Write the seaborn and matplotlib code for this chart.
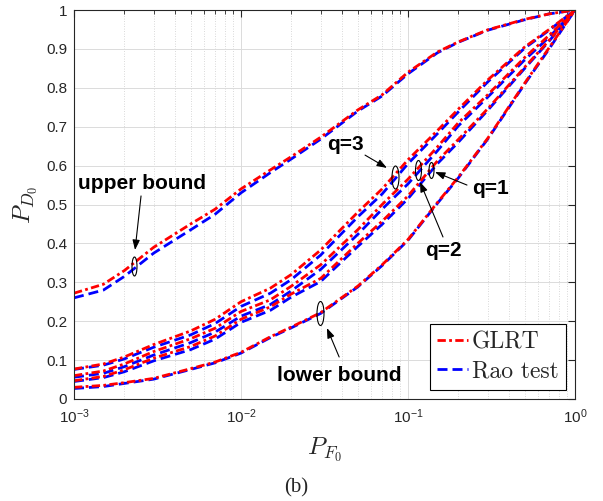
import numpy as np
import pandas as pd
import seaborn as sns
import matplotlib
matplotlib.use("Agg")
import matplotlib.pyplot as plt
from matplotlib.path import Path
from matplotlib.transforms import Affine2D
from matplotlib.ticker import FixedLocator, FixedFormatter, LogLocator, NullFormatter

# ---------------- data ----------------
pf = [0.001, 0.0015, 0.002, 0.003, 0.005, 0.007, 0.01, 0.015, 0.02, 0.03,
      0.05, 0.07, 0.1, 0.15, 0.2, 0.3, 0.5, 0.7, 1.0]

glrt_upper = [0.272, 0.295, 0.33, 0.39, 0.45, 0.488, 0.54, 0.589, 0.623, 0.673,
              0.743, 0.782, 0.84, 0.892, 0.918, 0.949, 0.976, 0.99, 1.0]
glrt_q3 = [0.077, 0.09, 0.108, 0.14, 0.175, 0.205, 0.25, 0.285, 0.32, 0.383,
           0.48, 0.54, 0.615, 0.69, 0.745, 0.82, 0.905, 0.95, 1.0]
glrt_q2 = [0.06, 0.072, 0.09, 0.122, 0.155, 0.182, 0.225, 0.255, 0.29, 0.345,
           0.435, 0.5, 0.565, 0.648, 0.71, 0.782, 0.878, 0.935, 1.0]
glrt_q1 = [0.047, 0.058, 0.075, 0.105, 0.135, 0.162, 0.205, 0.237, 0.27, 0.31,
           0.4, 0.457, 0.522, 0.612, 0.667, 0.746, 0.853, 0.922, 1.0]
glrt_lower = [0.03, 0.035, 0.042, 0.053, 0.078, 0.095, 0.12, 0.16, 0.185, 0.222,
              0.29, 0.345, 0.41, 0.505, 0.57, 0.67, 0.812, 0.903, 1.0]

rao_upper = [0.26, 0.28, 0.315, 0.375, 0.435, 0.475, 0.53, 0.582, 0.617, 0.668,
             0.74, 0.779, 0.836, 0.89, 0.917, 0.948, 0.975, 0.99, 1.0]
rao_q3 = [0.076, 0.087, 0.103, 0.133, 0.165, 0.194, 0.238, 0.272, 0.307, 0.37,
          0.468, 0.527, 0.605, 0.682, 0.738, 0.815, 0.902, 0.948, 1.0]
rao_q2 = [0.056, 0.066, 0.083, 0.113, 0.145, 0.172, 0.213, 0.243, 0.278, 0.333,
          0.423, 0.488, 0.553, 0.638, 0.702, 0.776, 0.872, 0.93, 1.0]
rao_q1 = [0.045, 0.055, 0.07, 0.098, 0.127, 0.154, 0.197, 0.228, 0.262, 0.302,
          0.392, 0.449, 0.515, 0.605, 0.66, 0.742, 0.85, 0.92, 1.0]
rao_lower = [0.027, 0.032, 0.04, 0.051, 0.076, 0.093, 0.118, 0.158, 0.183, 0.22,
             0.288, 0.343, 0.408, 0.503, 0.568, 0.668, 0.81, 0.9, 1.0]

curve_names = ["upper", "q3", "q2", "q1", "lower"]
tests = ["GLRT", "Rao test"]
y_ticks = [0, 0.1, 0.2, 0.3, 0.4, 0.5, 0.6, 0.7, 0.8, 0.9, 1]
y_tick_labels = ["0", "0.1", "0.2", "0.3", "0.4", "0.5", "0.6", "0.7", "0.8", "0.9", "1"]
x_ticks = [1e-3, 1e-2, 1e-1, 1]
x_tick_labels = [r"$\mathdefault{10^{-3}}$", r"$\mathdefault{10^{-2}}$",
                 r"$\mathdefault{10^{-1}}$", r"$\mathdefault{10^{0}}$"]

series = {
    ("GLRT", "upper"): glrt_upper, ("GLRT", "q3"): glrt_q3, ("GLRT", "q2"): glrt_q2,
    ("GLRT", "q1"): glrt_q1, ("GLRT", "lower"): glrt_lower,
    ("Rao test", "upper"): rao_upper, ("Rao test", "q3"): rao_q3, ("Rao test", "q2"): rao_q2,
    ("Rao test", "q1"): rao_q1, ("Rao test", "lower"): rao_lower,
}
rows = []
for (t, c), vals in series.items():
    for x, y in zip(pf, vals):
        rows.append({"PF": x, "PD": y, "test": t, "curve": c})
df = pd.DataFrame(rows)

# ---------------- style ----------------
sns.set_style("white")
plt.rcParams["font.family"] = ["Liberation Sans", "DejaVu Sans"]
plt.rcParams["mathtext.fontset"] = "custom"
plt.rcParams["mathtext.rm"] = "Liberation Sans"
plt.rcParams["mathtext.it"] = "Liberation Sans:italic"
plt.rcParams["mathtext.bf"] = "Liberation Sans:bold"
plt.rcParams["mathtext.default"] = "regular"

axcol = (0.15, 0.15, 0.15)

fig = plt.figure(figsize=(6.03, 5.01), dpi=100)
ax = fig.add_axes([74 / 603, 1 - 399 / 501, (575 - 74) / 603, (399 - 10) / 501])

sns.lineplot(data=df, x="PF", y="PD", hue="test", style="test", units="curve",
             estimator=None, sort=False,
             hue_order=["Rao test", "GLRT"], style_order=["Rao test", "GLRT"],
             palette={"GLRT": "#ff0000", "Rao test": "#0000ff"},
             dashes={"GLRT": (3.0, 1.2, 1.0, 1.2), "Rao test": (3.6, 1.8)},
             linewidth=2.0, legend=False, ax=ax)

ax.set_xscale("log")
ax.set_xlim(1e-3, 1)
ax.set_ylim(0, 1)

ax.xaxis.set_major_locator(FixedLocator(x_ticks))
ax.xaxis.set_major_formatter(FixedFormatter(x_tick_labels))
ax.xaxis.set_minor_locator(LogLocator(base=10, subs=np.arange(2, 10), numticks=20))
ax.xaxis.set_minor_formatter(NullFormatter())
ax.yaxis.set_major_locator(FixedLocator(y_ticks))
ax.yaxis.set_major_formatter(FixedFormatter(y_tick_labels))

ax.grid(True, which="major", color=(0.86, 0.86, 0.86), linewidth=0.7, linestyle="-")
ax.grid(True, which="minor", axis="x", color=(0.80, 0.80, 0.80), linewidth=0.6,
        linestyle=(0, (1, 2)))
ax.set_axisbelow(True)

for s in ax.spines.values():
    s.set_color(axcol)
    s.set_linewidth(0.8)
ax.tick_params(which="both", direction="in", top=True, right=True, colors=axcol,
               labelcolor=axcol)
ax.tick_params(which="major", length=5, width=0.8, labelsize=11)
ax.tick_params(axis="x", which="major", pad=6)
ax.tick_params(axis="y", which="major", pad=5)
ax.tick_params(which="minor", length=3, width=0.6)

ax.set_xlabel(r"$\mathit{P}_{\mathit{F}_{\mathrm{0}}}$", fontsize=18,
              math_fontfamily="cm", color=axcol, labelpad=7)
ax.set_ylabel(r"$\mathit{P}_{\mathit{D}_{\mathrm{0}}}$", fontsize=18,
              math_fontfamily="cm", color=axcol, labelpad=5)

# legend built from drawn lines
lines = ax.get_lines()
h_rao = lines[0]
h_glrt = lines[len(curve_names)]
leg = ax.legend([h_glrt, h_rao], ["GLRT", "Rao test"], loc="lower right",
                prop={"family": "cmr10", "size": 17}, handlelength=1.3,
                handletextpad=0.15, borderpad=0.3, labelspacing=0.3,
                borderaxespad=0.4, frameon=True, fancybox=False,
                edgecolor="black", framealpha=1)
leg.get_frame().set_linewidth(0.8)

# ---------------- annotations ----------------
def ell_marker(w, h):
    return Path.unit_circle().transformed(Affine2D().scale(w / h, 1.0))

logpf = np.log10(pf)
def mid(curve, x):
    a = np.interp(np.log10(x), logpf, series[("GLRT", curve)])
    b = np.interp(np.log10(x), logpf, series[("Rao test", curve)])
    return (a + b) / 2

ellipses = [("upper", 0.00229, 5, 19), ("lower", 0.0297, 7, 24),
            ("q3", 0.0836, 7, 23), ("q2", 0.1148, 6, 20), ("q1", 0.1374, 5, 16)]
for c, x, w, h in ellipses:
    ax.plot([x], [mid(c, x)], linestyle="none", marker=ell_marker(w, h),
            markersize=h * 0.72, markerfacecolor="none", markeredgecolor="black",
            markeredgewidth=0.8, zorder=5)

tfont = dict(fontsize=15, fontweight="bold", color="black", family="Liberation Sans")
ax.text(0.001057, 0.54, "upper bound", ha="left", va="baseline", **tfont)
ax.text(0.01644, 0.046, "lower bound", ha="left", va="baseline", **tfont)
ax.text(0.0327, 0.64, "q=3", ha="left", va="baseline", **tfont)
ax.text(0.2406, 0.527, "q=1", ha="left", va="baseline", **tfont)
ax.text(0.1264, 0.3676, "q=2", ha="left", va="baseline", **tfont)

arrows = [((0.00252, 0.522), (0.00232, 0.383)),
          ((0.0387, 0.108), (0.0327, 0.1825)),
          ((0.0553, 0.627), (0.0748, 0.594)),
          ((0.2255, 0.55), (0.145, 0.5835)),
          ((0.162, 0.4165), (0.118, 0.558))]
for tail, head in arrows:
    ax.annotate("", xy=head, xytext=tail,
                arrowprops=dict(arrowstyle="-|>,head_length=0.6,head_width=0.22",
                                color="black", lw=0.8, shrinkA=0, shrinkB=0),
                zorder=6)

fig.text(296 / 603, 1 - 488 / 501, "(b)", ha="center", va="center",
         family="Liberation Serif", fontsize=15)

fig.savefig("out.png", dpi=100)
